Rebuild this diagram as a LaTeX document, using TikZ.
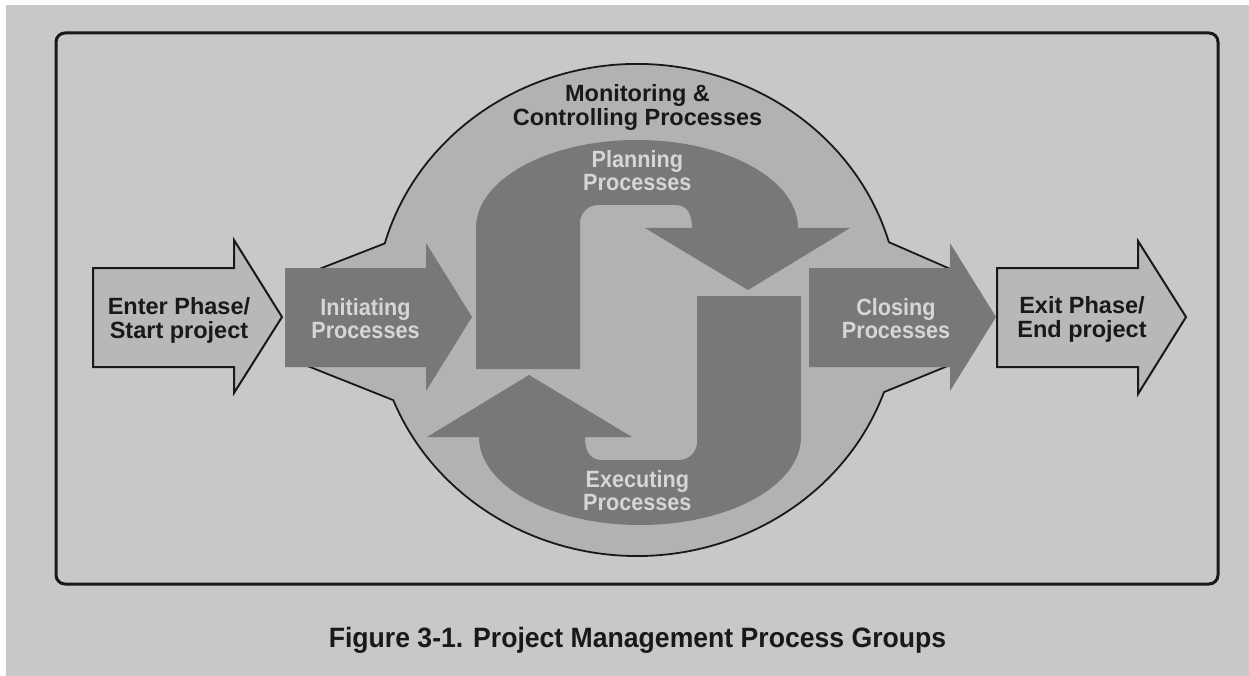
\documentclass[tikz,border=0pt]{standalone}
\usepackage{fontspec}
\setmainfont{Liberation Sans}
\newfontfamily\lightfont[FakeStretch=0.92]{Liberation Sans}
\newfontfamily\capfont[FakeStretch=0.95]{Liberation Sans}
\definecolor{bgc}{gray}{0.785}
\definecolor{monc}{gray}{0.70}
\definecolor{darkc}{gray}{0.47}
\definecolor{ltc}{gray}{0.84}
\definecolor{ioc}{gray}{0.72}
\definecolor{inkc}{gray}{0.10}
\newcommand\twoline[2]{\begin{tabular}[t]{@{}c@{}}#1\\#2\end{tabular}}
\begin{document}
\begin{tikzpicture}[x=1pt,y=-1pt,
  darkarrow/.style={fill=darkc,draw=none},
  ioarrow/.style={fill=ioc,draw=inkc,line width=2pt,line join=miter},
  lighttext/.style={text=ltc,inner sep=0pt,anchor=base,font=\lightfont\bfseries\fontsize{23.5}{23}\selectfont},
  inktext/.style={text=inkc,inner sep=0pt,anchor=base,font=\bfseries\fontsize{23.5}{23}\selectfont}]
\useasboundingbox (0,0) rectangle (1249,676);
\fill[white] (0,0) rectangle (1249,676);
\fill[bgc] (6,5) rectangle (1249,676);
% outer frame
\draw[inkc,line width=3pt,rounded corners=9pt] (56,33) rectangle (1218,584);
% monitoring & controlling region
\draw[fill=monc,draw=inkc,line width=1.8pt,line join=round]
  (300,276.5) -- (384.8,243.4)
  arc[start angle=195.7,end angle=344,x radius=262,y radius=246]
  -- (955,271) -- (955,363) -- (884,392.1)
  arc[start angle=19.5,end angle=158.5,x radius=262,y radius=246]
  -- (300,363) -- cycle;
% initiating and closing arrows
\fill[darkarrow] (285,268) -- (426,268) -- (426,243) -- (472,317) -- (426,391) -- (426,367) -- (285,367) -- cycle;
\fill[darkarrow] (809,268) -- (950,268) -- (950,243) -- (996,317) -- (950,391) -- (950,367) -- (809,367) -- cycle;
% planning arrow
\fill[darkarrow] (476,369) -- (476,228)
  arc[start angle=180,end angle=360,x radius=161,y radius=88]
  -- (850,228) -- (748,290) -- (645,228) -- (692,228)
  .. controls (692,212) and (686,205) .. (675,205) -- (598,205)
  .. controls (588,205) and (580,213) .. (580,223) -- (580,369) -- cycle;
% executing arrow (point mirror of planning)
\begin{scope}[rotate around={180:(638.5,332.5)}]
\fill[darkarrow] (476,369) -- (476,228)
  arc[start angle=180,end angle=360,x radius=161,y radius=88]
  -- (850,228) -- (748,290) -- (645,228) -- (692,228)
  .. controls (692,212) and (686,205) .. (675,205) -- (598,205)
  .. controls (588,205) and (580,213) .. (580,223) -- (580,369) -- cycle;
\end{scope}
% enter and exit arrows
\draw[ioarrow] (93,268) -- (234,268) -- (234,240) -- (282,317) -- (234,393) -- (234,367) -- (93,367) -- cycle;
\draw[ioarrow] (997,268) -- (1138,268) -- (1138,241) -- (1186,317) -- (1138,394) -- (1138,367) -- (997,367) -- cycle;
% texts
\node[inktext] (mon) at (637.5,101.7) {\twoline{Monitoring \&}{Controlling Processes}};
\node[lighttext] (plan) at (637.3,167.3) {\twoline{Planning}{Processes}};
\node[lighttext] (exec) at (637.3,487.3) {\twoline{Executing}{Processes}};
\node[lighttext] (init) at (365.5,315) {\twoline{Initiating}{Processes}};
\node[lighttext] (clos) at (896,315) {\twoline{Closing}{Processes}};
\node[inktext] (enter) at (179,314.3) {\twoline{Enter Phase/}{Start project}};
\node[inktext] (exit) at (1082,313.3) {\twoline{Exit Phase/}{End project}};
\node[text=inkc,inner sep=0pt,anchor=base,font=\capfont\bfseries\fontsize{28}{30}\selectfont] (cap) at (637.5,647) {Figure 3-1. Project Management Process Groups};
\end{tikzpicture}
\end{document}
